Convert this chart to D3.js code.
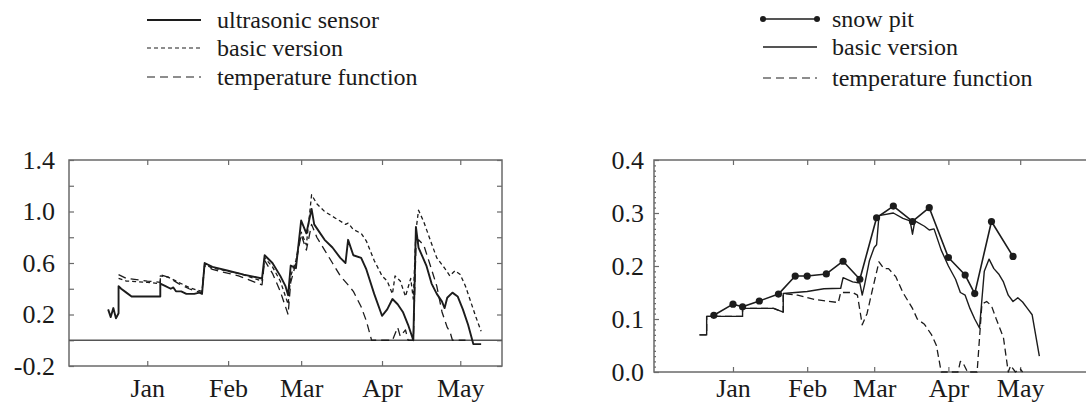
<!DOCTYPE html>
<html>
<head>
<meta charset="utf-8">
<script src="https://cdn.jsdelivr.net/npm/d3@7"></script>
<style>
  body { margin: 0; background: #fff; }
  svg text { font-family: 'Liberation Serif', 'Times New Roman', Times, serif; fill: #1a1a1a; }
</style>
</head>
<body>
<svg id="chart" width="1086" height="410"></svg>
<script>
// month ticks shared by both panels
var monthTicks = ['01-01', '02-01', '03-01', '04-01', '05-01'];
var monthLabels = ['Jan', 'Feb', 'Mar', 'Apr', 'May'];

// left panel: snow depth (m)
var depthTicks = [-0.2, 0.0, 0.2, 0.4, 0.6, 0.8, 1.0, 1.2, 1.4];
var depthLabels = [-0.2, 0.2, 0.6, 1.0, 1.4];

var sensorDepth = [
  ['12-17', 0.24], ['12-18', 0.18], ['12-19', 0.25], ['12-20', 0.17], ['12-21', 0.21], ['12-21', 0.42],
  ['12-22', 0.40], ['12-24', 0.37], ['12-26', 0.34], ['01-05', 0.34], ['01-06', 0.34], ['01-06', 0.44],
  ['01-08', 0.42], ['01-10', 0.40], ['01-11', 0.41], ['01-12', 0.38], ['01-14', 0.38], ['01-16', 0.36],
  ['01-19', 0.36], ['01-21', 0.37], ['01-22', 0.36], ['01-23', 0.60], ['01-26', 0.57], ['02-01', 0.54],
  ['02-07', 0.51], ['02-14', 0.48], ['02-15', 0.66], ['02-18', 0.60], ['02-21', 0.50], ['02-23', 0.42],
  ['02-24', 0.35], ['02-25', 0.58], ['02-27', 0.56], ['03-01', 0.93], ['03-03', 0.83], ['03-05', 1.02],
  ['03-06', 0.90], ['03-08', 0.84], ['03-10', 0.78], ['03-13', 0.72], ['03-16', 0.64], ['03-18', 0.60],
  ['03-19', 0.78], ['03-21', 0.66], ['03-24', 0.64], ['03-26', 0.55], ['03-29', 0.36], ['04-01', 0.19],
  ['04-03', 0.24], ['04-05', 0.32], ['04-07', 0.28], ['04-09', 0.22], ['04-11', 0.12], ['04-13', 0.00],
  ['04-14', 0.88], ['04-15', 0.72], ['04-18', 0.58], ['04-20', 0.44], ['04-22', 0.36], ['04-24', 0.30],
  ['04-25', 0.25], ['04-26', 0.33], ['04-28', 0.37], ['04-30', 0.34], ['05-02', 0.24], ['05-04', 0.12],
  ['05-06', -0.03], ['05-09', -0.03]
];

var basicDepth = [
  ['12-21', 0.48], ['12-24', 0.46], ['01-01', 0.45], ['01-06', 0.44], ['01-06', 0.50], ['01-09', 0.49],
  ['01-13', 0.45], ['01-17', 0.41], ['01-20', 0.39], ['01-22', 0.38], ['01-23', 0.59], ['01-26', 0.56],
  ['02-05', 0.52], ['02-14', 0.46], ['02-15', 0.64], ['02-18', 0.57], ['02-21', 0.46], ['02-24', 0.28],
  ['02-25', 0.50], ['02-27', 0.62], ['03-01', 0.84], ['03-03', 0.74], ['03-05', 1.13], ['03-07', 1.06],
  ['03-10', 1.00], ['03-14', 0.95], ['03-18', 0.90], ['03-19', 0.91], ['03-21', 0.86], ['03-24', 0.83],
  ['03-26', 0.77], ['03-29', 0.62], ['04-01', 0.50], ['04-03', 0.46], ['04-05', 0.36], ['04-06', 0.50],
  ['04-08', 0.46], ['04-10', 0.34], ['04-12', 0.48], ['04-13', 0.32], ['04-14', 0.85], ['04-15', 1.01],
  ['04-17', 0.92], ['04-20', 0.75], ['04-22', 0.64], ['04-25', 0.56], ['04-27', 0.50], ['04-29', 0.54],
  ['05-01', 0.51], ['05-03', 0.42], ['05-05', 0.30], ['05-07', 0.18], ['05-09', 0.07]
];

var tempDepth = [
  ['12-21', 0.51], ['12-24', 0.48], ['01-01', 0.46], ['01-06', 0.45], ['01-06', 0.51], ['01-09', 0.49],
  ['01-13', 0.44], ['01-17', 0.40], ['01-20', 0.38], ['01-22', 0.37], ['01-23', 0.58], ['01-26', 0.55],
  ['02-05', 0.50], ['02-14', 0.43], ['02-15', 0.62], ['02-18', 0.52], ['02-21', 0.38], ['02-24', 0.20],
  ['02-25', 0.45], ['02-27', 0.60], ['03-01', 0.82], ['03-03', 0.70], ['03-05', 0.90], ['03-07', 0.80],
  ['03-10', 0.70], ['03-13', 0.60], ['03-16', 0.50], ['03-19', 0.43], ['03-21', 0.38], ['03-24', 0.26],
  ['03-26', 0.15], ['03-28', 0.00], ['04-05', 0.00], ['04-07', 0.10], ['04-08', 0.03], ['04-10', 0.08],
  ['04-11', 0.00], ['04-13', 0.00], ['04-14', 0.72], ['04-15', 0.78], ['04-17', 0.74], ['04-20', 0.55],
  ['04-22', 0.42], ['04-24', 0.22], ['04-26', 0.10], ['04-27', 0.07], ['04-28', 0.00], ['05-03', 0.00]
];

// right panel: water equivalent (m)
var sweTicks = [0.0, 0.1, 0.2, 0.3, 0.4];

var pitSwe = [
  ['12-24', 0.107], ['01-01', 0.128], ['01-05', 0.123], ['01-12', 0.134], ['01-20', 0.147],
  ['01-27', 0.181], ['02-01', 0.181], ['02-09', 0.185], ['02-16', 0.209], ['02-23', 0.175],
  ['03-02', 0.291], ['03-09', 0.313], ['03-17', 0.284], ['03-24', 0.310], ['04-01', 0.216],
  ['04-08', 0.183], ['04-12', 0.148], ['04-19', 0.284], ['04-28', 0.218]
];

var basicSwe = [
  ['12-18', 0.070], ['12-21', 0.070], ['12-21', 0.105], ['01-05', 0.105], ['01-05', 0.120], ['01-18', 0.120],
  ['01-22', 0.113], ['01-22', 0.148], ['02-01', 0.152], ['02-08', 0.157], ['02-15', 0.158], ['02-16', 0.178],
  ['02-20', 0.170], ['02-23', 0.168], ['02-24', 0.145], ['02-25', 0.165], ['02-27', 0.210], ['03-01', 0.235],
  ['03-02', 0.240], ['03-03', 0.295], ['03-09', 0.300], ['03-13', 0.290], ['03-16', 0.285], ['03-17', 0.260],
  ['03-18', 0.285], ['03-22', 0.275], ['03-24', 0.268], ['03-26', 0.270], ['03-29', 0.230], ['04-01', 0.200],
  ['04-04', 0.175], ['04-06', 0.150], ['04-08', 0.145], ['04-10', 0.120], ['04-12', 0.100], ['04-14', 0.083],
  ['04-16', 0.190], ['04-18', 0.213], ['04-20', 0.195], ['04-22', 0.185], ['04-24', 0.170], ['04-26', 0.145],
  ['04-28', 0.133], ['04-30', 0.140], ['05-02', 0.132], ['05-04', 0.120], ['05-06', 0.108], ['05-09', 0.030]
];

var tempSwe = [
  ['12-18', 0.070], ['12-21', 0.070], ['12-21', 0.105], ['01-05', 0.105], ['01-05', 0.120], ['01-18', 0.120],
  ['01-22', 0.113], ['01-22', 0.148], ['01-28', 0.145], ['02-04', 0.137], ['02-14', 0.131], ['02-15', 0.150],
  ['02-20', 0.150], ['02-22', 0.145], ['02-24', 0.089], ['02-26', 0.110], ['02-28', 0.150], ['03-03', 0.208],
  ['03-05', 0.195], ['03-07', 0.195], ['03-10', 0.180], ['03-13', 0.150], ['03-17', 0.120], ['03-19', 0.100],
  ['03-22', 0.090], ['03-25', 0.070], ['03-27', 0.050], ['03-29', 0.000], ['04-05', 0.000], ['04-06', 0.020],
  ['04-07', 0.018], ['04-09', 0.000], ['04-13', 0.000], ['04-15', 0.128], ['04-17', 0.133], ['04-19', 0.125],
  ['04-21', 0.100], ['04-24', 0.065], ['04-26', 0.000], ['04-27', 0.012], ['04-29', 0.000], ['05-01', 0.006],
  ['05-02', 0.000]
];

var ink = '#1c1c1c';
var frameColor = '#6a6a6a';
var serif = "'Liberation Serif', 'Times New Roman', Times, serif";
var svg = d3.select('#chart');

function parseDay(s) {
    var p = s.split('-');
    var m = +p[0];
    return new Date(m >= 11 ? 1990 : 1991, m - 1, +p[1]);
}

function toPoints(series) {
    return series.map(function (d) { return { date: parseDay(d[0]), value: d[1] }; });
}

function styleAxis(sel, size) {
    sel.attr('font-family', serif);
    sel.select('.domain').remove();
    sel.selectAll('line').attr('stroke', frameColor).attr('stroke-width', 1.2);
    sel.selectAll('text')
        .style('font-family', serif)
        .style('font-size', size + 'px')
        .attr('fill', ink);
}

function panel(o) {
    var g = svg.append('g');
    var x = d3.scaleTime()
        .domain([parseDay(o.xStart), parseDay(o.xEnd)])
        .range([o.left, o.right]);
    var y = d3.scaleLinear().domain(o.yDomain).range([o.bottom, o.top]);
    var months = monthTicks.map(parseDay);

    g.append('rect')
        .attr('x', o.left).attr('y', o.top)
        .attr('width', o.right - o.left).attr('height', o.bottom - o.top)
        .attr('fill', 'none').attr('stroke', frameColor).attr('stroke-width', 1.5);

    g.append('g').attr('transform', 'translate(0,' + o.bottom + ')')
        .call(d3.axisBottom(x).tickValues(months).tickSize(-5).tickPadding(o.xPad)
            .tickFormat(function (d, i) { return monthLabels[i]; }))
        .call(styleAxis, 26);
    g.append('g').attr('transform', 'translate(0,' + o.top + ')')
        .call(d3.axisTop(x).tickValues(months).tickSize(-5).tickFormat(''))
        .call(styleAxis, 26);

    g.append('g').attr('transform', 'translate(' + o.left + ',0)')
        .call(d3.axisLeft(y).tickValues(o.yTicks).tickSize(-5).tickPadding(o.yPad)
            .tickFormat(function (d) {
                var hit = o.yLabels.some(function (v) { return Math.abs(v - d) < 1e-6; });
                return hit ? d3.format('.1f')(d).replace('\u2212', '-') : '';
            }))
        .call(styleAxis, 26);
    g.append('g').attr('transform', 'translate(' + o.right + ',0)')
        .call(d3.axisRight(y).tickValues(o.yTicks).tickSize(-5).tickFormat(''))
        .call(styleAxis, 26);

    if (o.minor) {
        g.append('g').attr('transform', 'translate(' + o.left + ',0)')
            .call(d3.axisLeft(y).tickValues(o.minor).tickSize(-2).tickFormat(''))
            .call(styleAxis, 26);
    }

    var line = d3.line()
        .x(function (d) { return x(d.date); })
        .y(function (d) { return y(d.value); });

    return { g: g, x: x, y: y, line: line };
}

function drawSeries(p, series, dash, width) {
    p.g.append('path')
        .datum(toPoints(series))
        .attr('d', p.line)
        .attr('fill', 'none')
        .attr('stroke', ink)
        .attr('stroke-width', width)
        .attr('stroke-dasharray', dash)
        .attr('stroke-linejoin', 'round');
}

// left panel
var left = panel({
    left: 69, right: 502, top: 160, bottom: 366,
    xStart: '12-02', xEnd: '05-17',
    yDomain: [-0.2, 1.4], yTicks: depthTicks, yLabels: depthLabels,
    xPad: 13, yPad: 14
});

left.g.append('line')
    .attr('x1', 69).attr('x2', 502)
    .attr('y1', left.y(0)).attr('y2', left.y(0))
    .attr('stroke', '#555').attr('stroke-width', 1.4);

drawSeries(left, tempDepth, '8,5', 1.3);
drawSeries(left, basicDepth, '4,3', 1.3);
drawSeries(left, sensorDepth, null, 1.9);

// right panel
var right = panel({
    left: 654, right: 1092, top: 160, bottom: 372,
    xStart: '11-29', xEnd: '05-31',
    yDomain: [0, 0.4], yTicks: sweTicks, yLabels: sweTicks,
    minor: d3.range(0, 41).map(function (i) { return i / 100; }),
    xPad: 7, yPad: 10
});

drawSeries(right, tempSwe, '7,4', 1.3);
drawSeries(right, basicSwe, null, 1.4);
drawSeries(right, pitSwe, null, 1.6);

right.g.selectAll('circle.pit')
    .data(toPoints(pitSwe))
    .enter().append('circle')
    .attr('class', 'pit')
    .attr('cx', function (d) { return right.x(d.date); })
    .attr('cy', function (d) { return right.y(d.value); })
    .attr('r', 3.6)
    .attr('fill', ink);

// legends
var legendLeft = [
    { label: 'ultrasonic sensor', dash: null, w: 1.8, y: 20 },
    { label: 'basic version', dash: '4,3', w: 1.2, y: 48 },
    { label: 'temperature function', dash: '8,5', w: 1.2, y: 77 }
];
var legendRight = [
    { label: 'snow pit', dash: null, w: 1.5, y: 19, dots: true },
    { label: 'basic version', dash: null, w: 1.4, y: 47 },
    { label: 'temperature function', dash: '8,5', w: 1.2, y: 78 }
];

function legend(items, x0, x1, tx) {
    var g = svg.append('g');
    items.forEach(function (d) {
        g.append('line')
            .attr('x1', x0).attr('x2', x1).attr('y1', d.y).attr('y2', d.y)
            .attr('stroke', ink).attr('stroke-width', d.w)
            .attr('stroke-dasharray', d.dash);
        if (d.dots) {
            [x0, x1].forEach(function (cx) {
                g.append('circle').attr('cx', cx).attr('cy', d.y).attr('r', 3).attr('fill', ink);
            });
        }
        g.append('text')
            .attr('x', tx).attr('y', d.y + 8)
            .style('font-family', serif)
            .style('font-size', '24px')
            .text(d.label);
    });
}

legend(legendLeft, 147, 201, 217);
legend(legendRight, 763, 817, 832);
</script>
</body>
</html>
